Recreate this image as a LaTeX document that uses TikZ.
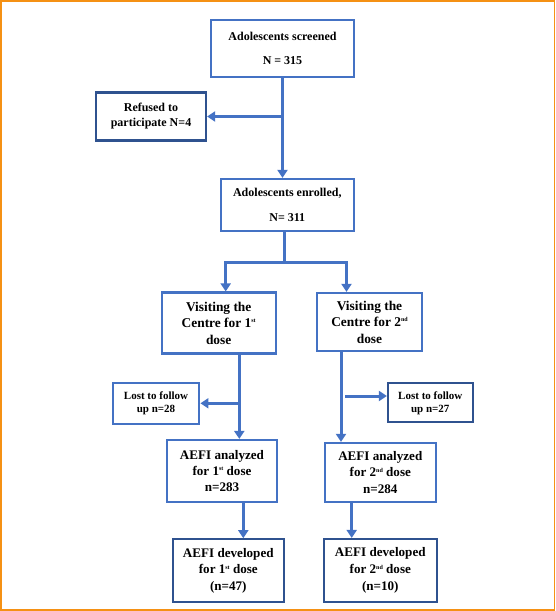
\documentclass[tikz,border=0pt]{standalone}
\usepackage{fontspec}
\setmainfont{Liberation Serif}
\usetikzlibrary{arrows.meta,positioning}
\definecolor{boxblue}{RGB}{68,114,196}
\definecolor{darkblue}{RGB}{47,82,143}
\definecolor{frameorange}{RGB}{245,145,20}
\newcommand{\ordsup}[1]{\raisebox{0.75ex}{\fontsize{6}{6}\selectfont #1}}

\begin{document}
\begin{tikzpicture}[x=1pt,y=-1pt,
    box/.style={draw=boxblue,line width=2.2pt,fill=white,align=center,inner sep=0pt},
    darkbox/.style={box,draw=darkblue},
    flow/.style={draw=boxblue,line width=3pt,-{Triangle[width=10pt,length=8pt]}},
    link/.style={draw=boxblue,line width=3pt}]
  \useasboundingbox (0,0) rectangle (555,611);
  \draw[frameorange,line width=1.5pt] (0.75,0.75) rectangle (554.25,609.75);

  % top of the chart
  \node[box,minimum width=143pt,minimum height=57pt,
        font={\fontsize{12}{24}\selectfont\bfseries}]
    (screened) at (282.5,48.7) {Adolescents screened\\N = 315};

  \node[darkbox,minimum width=110pt,minimum height=48pt,
        font={\fontsize{12}{15}\selectfont\bfseries}]
    (refused) at (151,116.5) {Refused to\\participate N=4};

  \node[box,minimum width=133pt,minimum height=52pt,
        font={\fontsize{12}{24.3}\selectfont\bfseries}]
    (enrolled) at (287.3,205) {Adolescents enrolled,\\N= 311};

  \draw[flow] (screened.south) -- (screened.south |- enrolled.north);
  \draw[flow] (screened.south |- refused.east) -- (refused.east);

  % the two doses
  \node[box,minimum width=114pt,minimum height=61pt,
        font={\fontsize{13.4}{16.5}\selectfont\bfseries}]
    (visit1) at (218.7,323) {Visiting the\\Centre for 1\ordsup{st}\\dose};

  \node[box,minimum width=105pt,minimum height=58pt,
        font={\fontsize{13.4}{16.5}\selectfont\bfseries}]
    (visit2) at (369.5,322) {Visiting the\\Centre for 2\ordsup{nd}\\dose};

  \coordinate (split) at (284.3,262.7);
  \draw[link] (enrolled.south -| split) -- (split);
  \draw[flow] (split) -| ([xshift=7pt]visit1.north);
  \draw[flow] (split) -| ([xshift=-23pt]visit2.north);

  \node[box,minimum width=86.6pt,minimum height=41.3pt,
        font={\fontsize{11}{13}\selectfont\bfseries}]
    (lost1) at (156,403.3) {Lost to follow\\up n=28};

  \node[darkbox,minimum width=84.7pt,minimum height=39pt,
        font={\fontsize{11}{13}\selectfont\bfseries}]
    (lost2) at (430.3,402.8) {Lost to follow\\up n=27};

  \node[box,minimum width=110.6pt,minimum height=62pt,
        font={\fontsize{13.1}{16.4}\selectfont\bfseries}]
    (an1) at (222,471) {AEFI analyzed\\for 1\ordsup{st} dose\\n=283};

  \node[box,minimum width=110.7pt,minimum height=59pt,
        font={\fontsize{13.1}{16.4}\selectfont\bfseries}]
    (an2) at (380.3,472.5) {AEFI analyzed\\for 2\ordsup{nd} dose\\n=284};

  \coordinate (v1out) at ([xshift=20.6pt]visit1.south);
  \coordinate (v2out) at ([xshift=-28.5pt]visit2.south);
  \coordinate (lost2tail) at (345,396);
  \draw[flow] (v1out) -- (v1out |- an1.north);
  \draw[flow] (v1out |- lost1.east) -- (lost1.east);
  \draw[flow] (v2out) -- (v2out |- an2.north);
  \draw[flow] (lost2tail) -- (lost2tail -| lost2.west);

  % bottom row
  \node[darkbox,minimum width=111.3pt,minimum height=63pt,
        font={\fontsize{13.1}{16.7}\selectfont\bfseries}]
    (dev1) at (228.3,570.8) {AEFI developed\\for 1\ordsup{st} dose\\(n=47)};

  \node[darkbox,minimum width=112.7pt,minimum height=63pt,
        font={\fontsize{13.1}{16.7}\selectfont\bfseries}]
    (dev2) at (380.3,570.5) {AEFI developed\\for 2\ordsup{nd} dose\\(n=10)};

  \coordinate (a1out) at ([xshift=21.3pt]an1.south);
  \coordinate (a2out) at ([xshift=-28.6pt]an2.south);
  \draw[flow] (a1out) -- (a1out |- dev1.north);
  \draw[flow] (a2out) -- (a2out |- dev2.north);
\end{tikzpicture}
\end{document}
